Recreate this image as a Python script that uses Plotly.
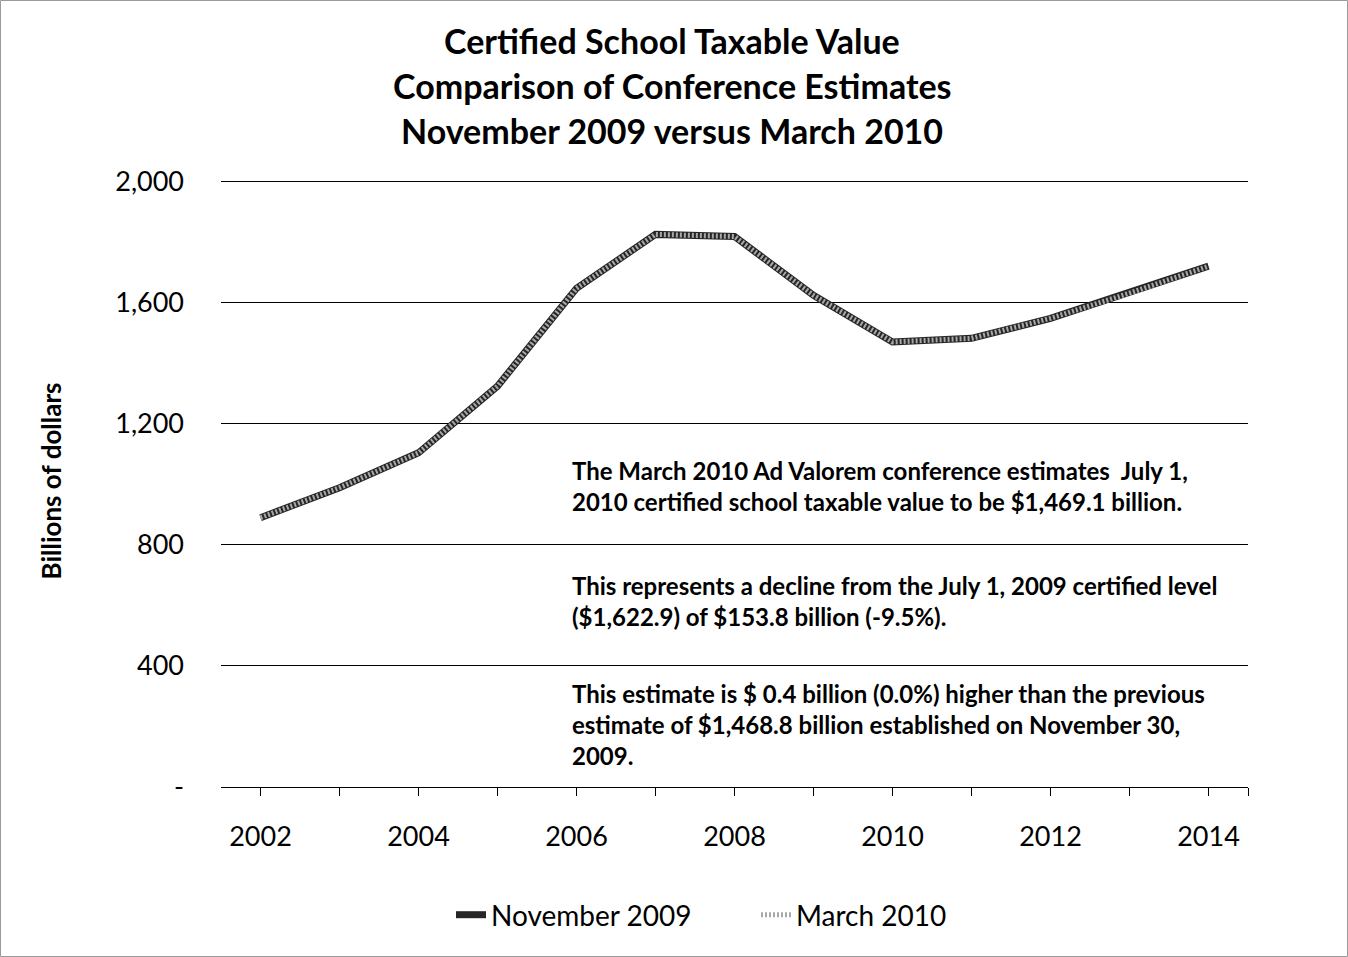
import plotly.graph_objects as go

# Fiscal years and certified school taxable value (billions of dollars)
years = [2002, 2003, 2004, 2005, 2006, 2007, 2008, 2009, 2010, 2011, 2012, 2013, 2014]
nov_2009 = [889, 988, 1103, 1323, 1646, 1824, 1817, 1622.9, 1468.8, 1481, 1547, 1630, 1719]
mar_2010 = [889, 988, 1103, 1323, 1646, 1824, 1817, 1622.9, 1469.1, 1481, 1547, 1630, 1719]

y_ticks = [0, 400, 800, 1200, 1600, 2000]
y_tick_text = ["-", "400", "800", "1,200", "1,600", "2,000"]

title_lines = [
    "Certified School Taxable Value",
    "Comparison of Conference Estimates",
    "November 2009 versus March 2010",
]

FONT = "Lato, Carlito, Calibri, sans-serif"
W, H = 1348, 957
ML, MR, MT, MB = 221, 100, 175, 170
PW, PH = W - ML - MR, H - MT - MB


def px_x(x):
    return (x - ML) / PW


def px_y(y):
    return (H - MB - y) / PH


fig = go.Figure()

fig.add_trace(go.Scatter(
    x=years, y=nov_2009, name="November 2009", mode="lines",
    line=dict(color="#262626", width=7),
))
fig.add_trace(go.Scatter(
    x=years, y=mar_2010, name="March 2010", mode="lines",
    line=dict(color="#a8a8a8", width=5, dash="2px,2px"),
))

# x ticks on every year plus the axis end; labels every other year
x_tick_vals = years + [2014.5]
x_tick_text = [str(y) if (y % 2 == 0) else "" for y in years] + [""]

fig.update_layout(
    width=W, height=H,
    margin=dict(l=ML, r=MR, t=MT, b=MB),
    paper_bgcolor="white", plot_bgcolor="white",
    font=dict(family=FONT, color="black"),
    xaxis=dict(
        range=[2001.5, 2014.5],
        tickmode="array", tickvals=x_tick_vals, ticktext=x_tick_text,
        ticks="outside", ticklen=8, tickcolor="black", tickwidth=1,
        ticklabelstandoff=18,
        showgrid=False, zeroline=False,
        showline=True, linecolor="black", linewidth=1,
        tickfont=dict(size=27, family=FONT),
    ),
    yaxis=dict(
        range=[0, 2020],
        tickmode="array", tickvals=y_ticks, ticktext=y_tick_text,
        showgrid=True, gridcolor="black", gridwidth=1,
        zeroline=False, showline=False, ticks="",
        ticklabelstandoff=36,
        tickfont=dict(size=27, family=FONT),
        title=dict(text="<b>Billions of dollars</b>", font=dict(size=26, family=FONT), standoff=46),
    ),
    legend=dict(
        orientation="h", x=756 / W, xanchor="center", xref="container",
        y=42 / H, yanchor="middle", yref="container",
        font=dict(size=28, family=FONT),
        entrywidth=260, entrywidthmode="pixels",
    ),
    showlegend=True,
)

# Three-line bold title
for i, line in enumerate(title_lines):
    fig.add_annotation(
        text="<b>" + line + "</b>",
        xref="paper", yref="paper",
        x=px_x(672), xanchor="center",
        y=px_y(41 + 44.5 * i), yanchor="middle",
        showarrow=False,
        font=dict(size=34, family=FONT, color="black"),
    )

notes = [
    ("The March 2010 Ad Valorem conference estimates  July 1,<br>"
     "2010 certified school taxable value to be $1,469.1 billion.", 486),
    ("This represents a decline from the July 1, 2009 certified level<br>"
     "($1,622.9) of $153.8 billion (-9.5%).", 601),
    ("This estimate is $ 0.4 billion (0.0%) higher than the previous<br>"
     "estimate of $1,468.8 billion established on November 30,<br>"
     "2009.", 724),
]
for text, ypix in notes:
    fig.add_annotation(
        text="<b>" + text + "</b>",
        xref="paper", yref="paper",
        x=px_x(570), xanchor="left",
        y=px_y(ypix), yanchor="middle",
        align="left", showarrow=False,
        font=dict(size=24, family=FONT, color="black"),
    )

# Chart-area border
fig.add_shape(
    type="rect", xref="paper", yref="paper",
    x0=-ML / PW + 0.5 / PW, x1=1 + MR / PW - 0.5 / PW,
    y0=-MB / PH + 0.5 / PH, y1=1 + MT / PH - 0.5 / PH,
    line=dict(color="#9a9a9a", width=1), layer="below",
)

fig.write_html("out.html")
